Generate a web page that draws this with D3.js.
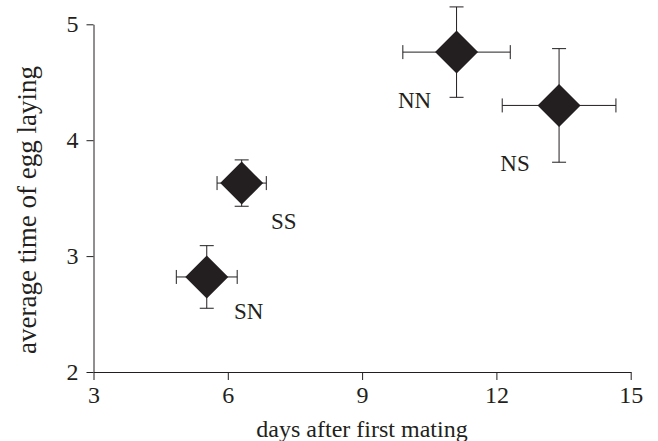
<!DOCTYPE html>
<html>
<head>
<meta charset="utf-8">
<script src="https://d3js.org/d3.v7.min.js"></script>
<style>
  body { margin: 0; background: #fff; }
  svg text { font-family: "Liberation Serif", "DejaVu Serif", serif; fill: #231f20; }
</style>
</head>
<body>
<div id="chart"></div>
<script>
//  Chart data
var groups   = ["NN", "NS", "SS", "SN"];
var daysMean = [11.11, 13.40, 6.31, 5.53];
var daysErr  = [1.20, 1.27, 0.55, 0.68];
var timeMean = [4.76, 4.30, 3.63, 2.82];
var timeErr  = [0.39, 0.49, 0.20, 0.27];

var xTicks = [3, 6, 9, 12, 15];
var yTicks = [2, 3, 4, 5];

//  Label offsets from the diamond centre (pixels)
var labelDx = [-42, -44, 42, 42];
var labelDy = [48, 58, 38, 34];

// ---------------------------------------------------------------------------------- //

var width = 658;
var height = 441;
var ink = "#231f20";

var svg = d3.select("#chart")
  .append("svg")
  .attr("width", width)
  .attr("height", height);

var x = d3.scaleLinear().domain([3, 15]).range([93.5, 630.7]);
var y = d3.scaleLinear().domain([2, 5]).range([372, 24.3]);

//  Axes
var xAxis = d3.axisBottom(x).tickValues(xTicks).tickFormat(d3.format("d"))
  .tickSize(8).tickSizeOuter(0).tickPadding(6);
var yAxis = d3.axisLeft(y).tickValues(yTicks).tickFormat(d3.format("d"))
  .tickSize(7).tickSizeOuter(0).tickPadding(8);

var gx = svg.append("g")
  .attr("transform", "translate(0,372)")
  .call(xAxis);

var gy = svg.append("g")
  .attr("transform", "translate(93.5,0)")
  .call(yAxis);

[gx, gy].forEach(function(g) {
  g.selectAll("path, line").attr("stroke", ink).attr("stroke-width", 1);
  g.selectAll("text")
    .style("font-size", "24px")
    .attr("fill", ink)
    .style("font-family", "'Liberation Serif', serif");
});

//  Axis titles
svg.append("text")
  .attr("x", 362)
  .attr("y", 437)
  .attr("text-anchor", "middle")
  .style("font-size", "24px")
  .text("days after first mating");

svg.append("text")
  .attr("transform", "translate(36,210) rotate(-90)")
  .attr("text-anchor", "middle")
  .style("font-size", "27px")
  .text("average time of egg laying");

// ---------------------------------------------------------------------------------- //

var points = groups.map(function(g, i) {
  return { name: g, x: daysMean[i], xe: daysErr[i], y: timeMean[i], ye: timeErr[i], i: i };
});

var cap = 7;

var bars = svg.append("g")
  .attr("stroke", ink)
  .attr("stroke-width", 1)
  .attr("fill", "none");

points.forEach(function(p) {
  // horizontal error bar
  bars.append("line")
    .attr("x1", x(p.x - p.xe)).attr("x2", x(p.x + p.xe))
    .attr("y1", y(p.y)).attr("y2", y(p.y));
  bars.append("line")
    .attr("x1", x(p.x - p.xe)).attr("x2", x(p.x - p.xe))
    .attr("y1", y(p.y) - cap).attr("y2", y(p.y) + cap);
  bars.append("line")
    .attr("x1", x(p.x + p.xe)).attr("x2", x(p.x + p.xe))
    .attr("y1", y(p.y) - cap).attr("y2", y(p.y) + cap);
  // vertical error bar
  bars.append("line")
    .attr("x1", x(p.x)).attr("x2", x(p.x))
    .attr("y1", y(p.y - p.ye)).attr("y2", y(p.y + p.ye));
  bars.append("line")
    .attr("x1", x(p.x) - cap).attr("x2", x(p.x) + cap)
    .attr("y1", y(p.y - p.ye)).attr("y2", y(p.y - p.ye));
  bars.append("line")
    .attr("x1", x(p.x) - cap).attr("x2", x(p.x) + cap)
    .attr("y1", y(p.y + p.ye)).attr("y2", y(p.y + p.ye));
});

//  Diamonds (rotated squares)
var diamond = d3.symbol().type(d3.symbolSquare).size(925);

svg.append("g")
  .selectAll("path")
  .data(points)
  .join("path")
  .attr("d", diamond)
  .attr("fill", ink)
  .attr("transform", function(p) {
    return "translate(" + x(p.x) + "," + y(p.y) + ") rotate(45)";
  });

//  Group labels
svg.append("g")
  .selectAll("text")
  .data(points)
  .join("text")
  .attr("x", function(p) { return x(p.x) + labelDx[p.i]; })
  .attr("y", function(p) { return y(p.y) + labelDy[p.i]; })
  .attr("dy", "0.35em")
  .attr("text-anchor", "middle")
  .style("font-size", "23px")
  .text(function(p) { return p.name; });
</script>
</body>
</html>
